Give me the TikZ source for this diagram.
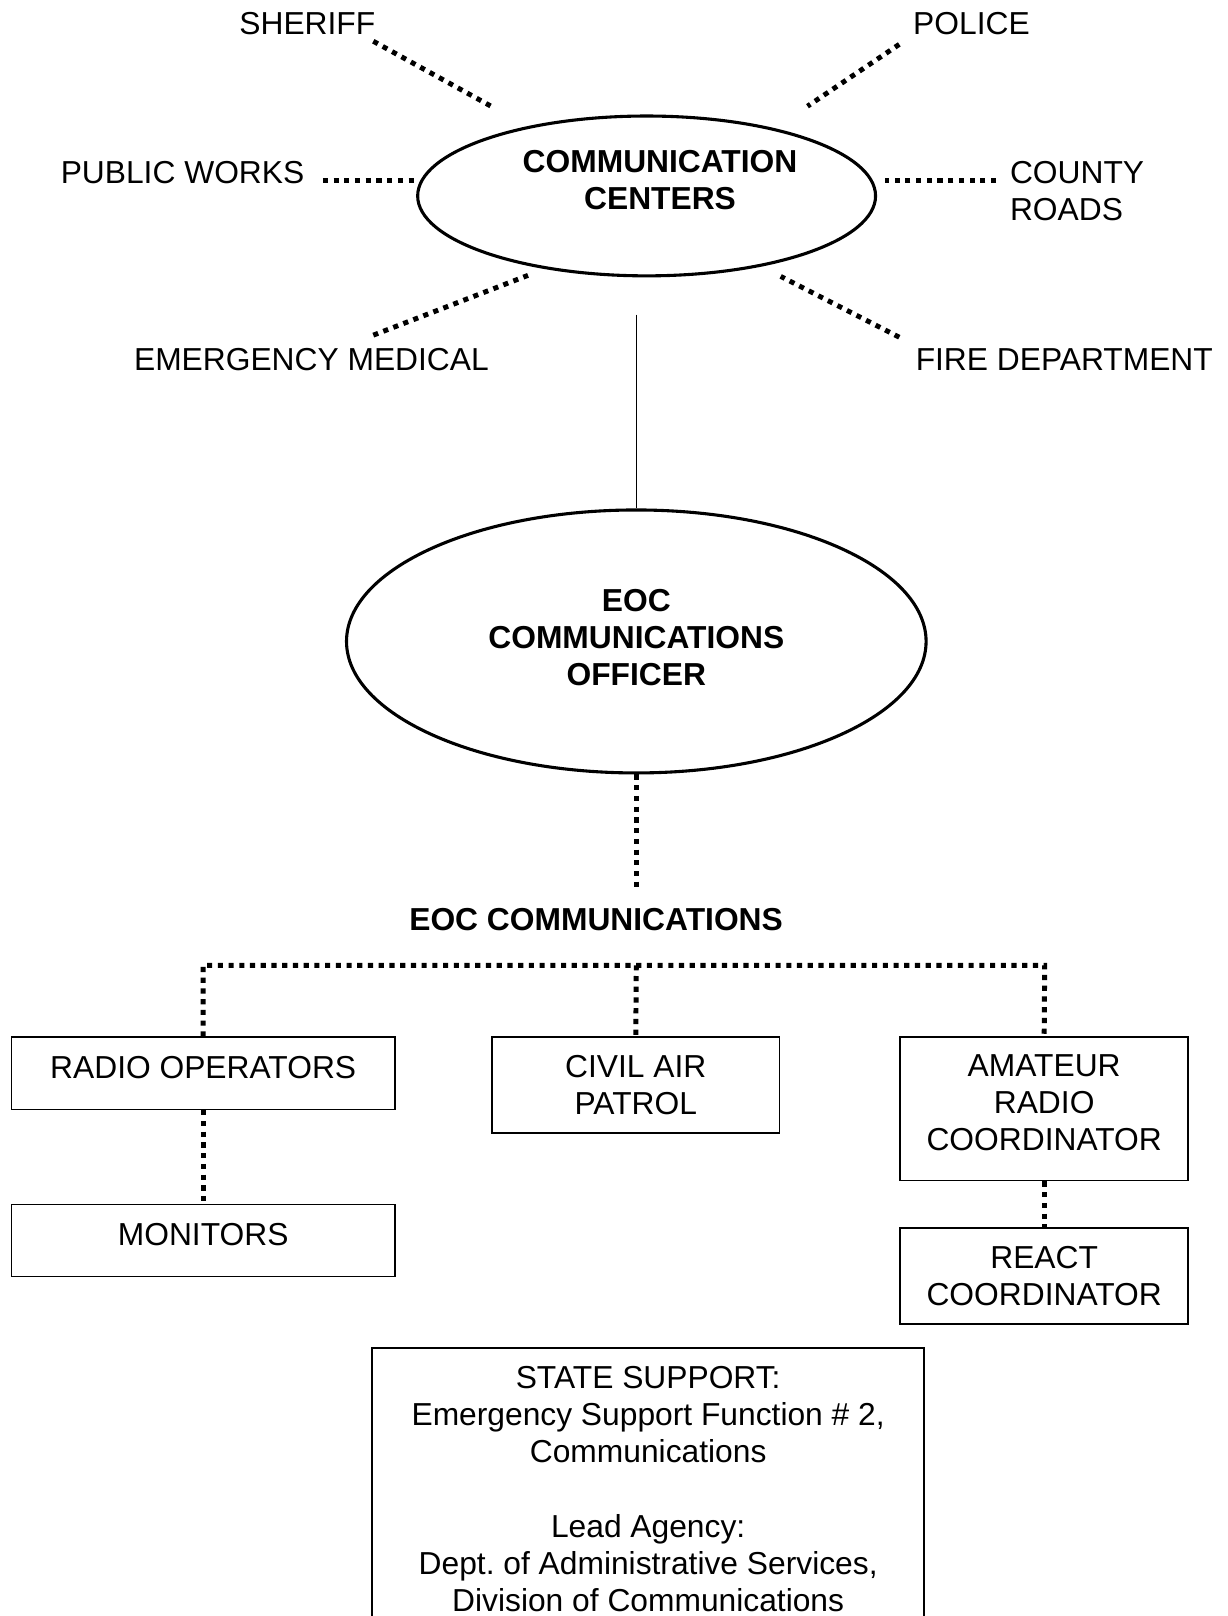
\documentclass[tikz,border=0pt]{standalone}
\usepackage{fontspec}
\setmainfont{Liberation Sans}
\usetikzlibrary{shapes.geometric,positioning}

\tikzset{
    orgbox/.style={draw, line width=0.8pt, inner sep=0pt, align=center, anchor=north},
    orgoval/.style={draw, ellipse, line width=1.5pt, inner sep=0pt, align=center},
    dotlink/.style={line width=2.4pt, dash pattern=on 2.5pt off 2.7pt},
    txt/.style={inner sep=0pt, align=center}
}

\begin{document}
\begin{tikzpicture}[x=0.5pt, y=-0.5pt, font=\fontsize{15.4}{18}\selectfont]
        \useasboundingbox (0,0) rectangle (1190,1567);

        % Communication centers
        \node[orgoval, minimum width=222pt, minimum height=77.5pt] (cc) at (627,190) {};
        \node[txt, font=\fontsize{15.4}{18}\selectfont\bfseries] (cclabel) at (640,175) {COMMUNICATION\\CENTERS};

        % Agencies round the centers
        \node[txt] (sheriff) at (298,23) {SHERIFF};
        \node[txt] (police) at (942,23) {POLICE};
        \node[txt] (pubworks) at (177,167) {PUBLIC WORKS};
        \node[txt, align=left, anchor=west] (roads) at (979,185) {COUNTY\\ROADS};
        \node[txt] (ems) at (302,349) {EMERGENCY MEDICAL};
        \node[txt] (fire) at (1032,349) {FIRE DEPARTMENT};

        % Ends of the dotted spokes
        \coordinate (sheriffA) at (362,40);
        \coordinate (sheriffB) at (478,104);
        \coordinate (policeA) at (872,43);
        \coordinate (policeB) at (783,103);
        \coordinate (worksA) at (313,175);
        \coordinate (worksB) at (402,175);
        \coordinate (roadsA) at (966,175);
        \coordinate (roadsB) at (858,175);
        \coordinate (emsA) at (362,325);
        \coordinate (emsB) at (512,267);
        \coordinate (fireA) at (872,327);
        \coordinate (fireB) at (757,268);

        % Draw spokes
        \draw[dotlink] (sheriffA) -- (sheriffB);
        \draw[dotlink] (policeA) -- (policeB);
        \draw[dotlink] (worksA) -- (worksB);
        \draw[dotlink] (roadsA) -- (roadsB);
        \draw[dotlink] (emsA) -- (emsB);
        \draw[dotlink] (fireA) -- (fireB);

        % EOC communications officer
        \node[orgoval, minimum width=281pt, minimum height=127.5pt, text depth=4pt, font=\fontsize{15.4}{18}\selectfont\bfseries] (eoc) at (617,622) {EOC\\COMMUNICATIONS\\OFFICER};
        \coordinate (ccdown) at (617,305);
        \coordinate (eocup) at (617,493);
        \draw[line width=0.6pt] (ccdown) -- (eocup);

        % EOC communications
        \node[txt, font=\fontsize{15.4}{18}\selectfont\bfseries] (eoccom) at (578,892) {EOC COMMUNICATIONS};
        \coordinate (eocdown) at (617,865);
        \draw[dotlink] (eoc.south) -- (eocdown);

        % Boxes
        \node[orgbox, minimum width=186pt, minimum height=35pt, text depth=6pt] (radio) at (197,1005) {RADIO OPERATORS};
        \node[orgbox, minimum width=186pt, minimum height=35pt, text depth=6pt] (monitors) at (197,1167) {MONITORS};
        \node[orgbox, minimum width=139.5pt, minimum height=46.5pt] (cap) at (616.5,1005) {CIVIL AIR\\PATROL};
        \node[orgbox, minimum width=139.5pt, minimum height=69.5pt, text depth=6pt] (amateur) at (1012.5,1005) {AMATEUR\\RADIO\\COORDINATOR};
        \node[orgbox, minimum width=139.5pt, minimum height=46.5pt] (react) at (1012.5,1190) {REACT\\COORDINATOR};
        \node[orgbox, minimum width=267.5pt, minimum height=137pt] (state) at (628.5,1306) {STATE SUPPORT:\\Emergency Support Function \# 2,\\Communications\\[18pt]Lead Agency:\\Dept.\ of Administrative Services,\\Division of Communications};

        % Dotted bar
        \coordinate (barL) at (197,936);
        \coordinate (barM) at (617,936);
        \coordinate (barR) at (1013,936);
        \draw[dotlink] (radio.north) -- (barL) -- (barR) -- (amateur.north);
        \draw[dotlink] (barM) -- (cap.north);
        \draw[dotlink] (radio.south) -- (monitors.north);
        \draw[dotlink] (amateur.south) -- (react.north);
    \end{tikzpicture}
\end{document}
